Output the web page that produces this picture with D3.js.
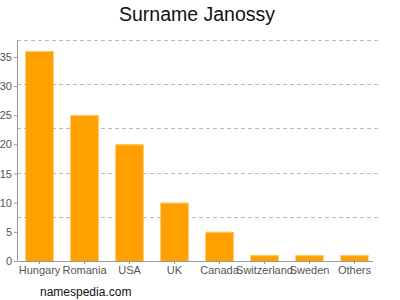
<!DOCTYPE html>
<html>
<head>
<meta charset="utf-8">
<script src="https://cdn.jsdelivr.net/npm/d3@7"></script>
<style>
  body { margin: 0; background: #fff; }
  svg { display: block; font-family: "Liberation Sans", Arial, sans-serif; }
</style>
</head>
<body>
<svg id="svg"></svg>
<script>
const width = 400, height = 300;

// data
const countries = ["Hungary", "Romania", "USA", "UK", "Canada", "Switzerland", "Sweden", "Others"];
const counts = [36, 25, 20, 10, 5, 1, 1, 1];
const yTicks = [0, 5, 10, 15, 20, 25, 30, 35];

const margin = {top: 40, right: 22, bottom: 39, left: 17};
const plotW = width - margin.left - margin.right;
const plotH = height - margin.top - margin.bottom;

const svg = d3.select("#svg")
    .attr("width", width)
    .attr("height", height);

const x = d3.scaleBand()
    .domain(countries)
    .range([0, 360])
    .paddingInner(0.378)
    .paddingOuter(0.189);

const y = d3.scaleLinear()
    .domain([0, 37.9])
    .range([plotH, 0]);

const g = svg.append("g")
    .attr("transform", `translate(${margin.left}, ${margin.top})`);

// dashed grid, five even steps up the value range
const gridVals = d3.range(1, 6).map(i => y.domain()[1] * i / 5);
g.append("g")
    .selectAll("line")
    .data(gridVals)
    .join("line")
    .attr("x1", 0)
    .attr("x2", plotW)
    .attr("y1", d => Math.round(y(d)) + 0.5)
    .attr("y2", d => Math.round(y(d)) + 0.5)
    .attr("stroke", "#bbb")
    .attr("stroke-dasharray", "4,3");

// bars
g.append("g")
    .selectAll("rect")
    .data(countries)
    .join("rect")
    .attr("x", d => x(d))
    .attr("width", x.bandwidth())
    .attr("y", (d, i) => y(counts[i]))
    .attr("height", (d, i) => plotH - y(counts[i]))
    .attr("fill", "#ffa000");

g.append("g")
    .selectAll("line")
    .data(countries)
    .join("line")
    .attr("x1", d => x(d))
    .attr("x2", d => x(d) + x.bandwidth())
    .attr("y1", (d, i) => y(counts[i]) + 0.5)
    .attr("y2", (d, i) => y(counts[i]) + 0.5)
    .attr("stroke", "#ffc860");

// axes
const yAxis = g.append("g")
    .call(d3.axisLeft(y).tickValues(yTicks).tickSize(3).tickSizeOuter(0).tickPadding(2));

const xAxis = g.append("g")
    .attr("transform", `translate(0, ${plotH})`)
    .call(d3.axisBottom(x).tickSize(3).tickSizeOuter(0).tickPadding(2));

[yAxis, xAxis].forEach(a => {
    a.select(".domain").attr("stroke", "#999");
    a.selectAll(".tick line").attr("stroke", "#999");
    a.selectAll(".tick text")
        .attr("fill", "#555")
        .style("font-size", "11px")
        .style("font-family", "Liberation Sans, Arial, sans-serif");
});
xAxis.select(".domain").attr("d", `M0.5,0.5H${plotW - 5}`);

// title and footer
svg.append("text")
    .attr("x", 197)
    .attr("y", 21)
    .attr("text-anchor", "middle")
    .style("font-size", "19.5px")
    .attr("fill", "#111")
    .text("Surname Janossy");

svg.append("text")
    .attr("x", 40)
    .attr("y", 296)
    .style("font-size", "12px")
    .attr("fill", "#111")
    .text("namespedia.com");
</script>
</body>
</html>
